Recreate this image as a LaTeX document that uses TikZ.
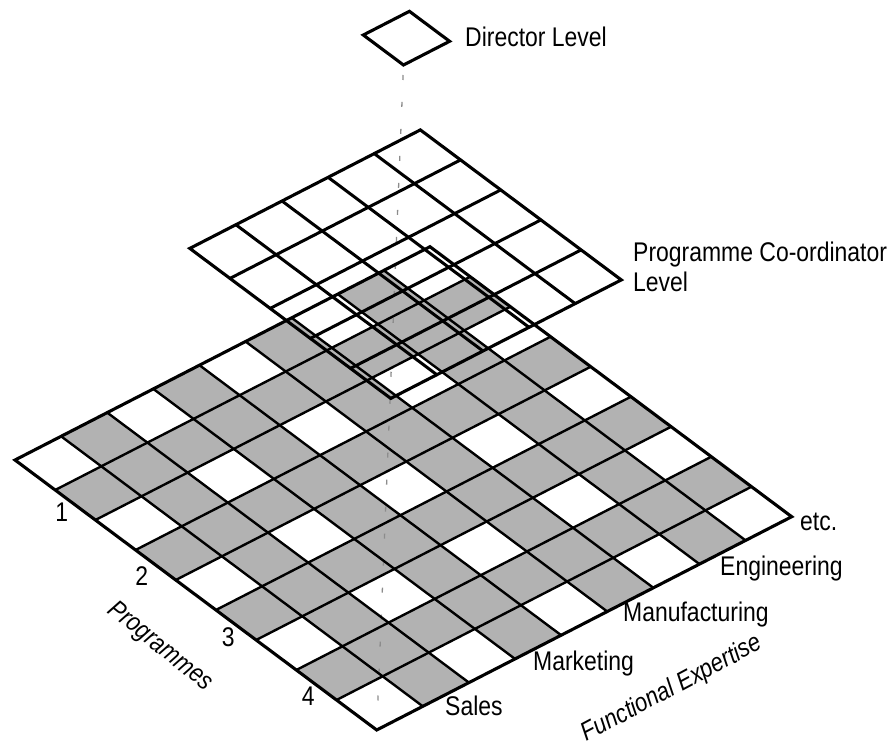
\documentclass[tikz,border=0pt]{standalone}
\usepackage{fontspec}
\setmainfont{Liberation Sans}[FakeStretch=0.85]
\begin{document}
\begin{tikzpicture}[x=1pt,y=-1pt,
  lbl/.style={font=\fontsize{27}{31}\selectfont, inner sep=0pt},
  axislbl/.style={font=\fontsize{26}{30}\selectfont\itshape, inner sep=0pt},
  cellfill/.style={fill=black!30},
  gridline/.style={line width=2.4pt, line cap=round},
  border/.style={line width=3.1pt, line join=miter},
  upline/.style={line width=3pt, line cap=round},
  dashline/.style={draw=black!45, line width=1.3pt, dash pattern=on 5pt off 22pt}]
\useasboundingbox (0,0) rectangle (893,748);

% ---- functional / programme matrix (9 x 9 cells) ----
\begin{scope}[shift={(15pt,-460pt)}, x={(40.19pt,-30pt)}, y={(46.11pt,23.7pt)}]
  \coordinate (baseL) at (0,0);
  \coordinate (baseB) at (9,0);
  \coordinate (baseR) at (9,9);
  \coordinate (baseT) at (0,9);
  \foreach \i in {0,...,8}{
    \foreach \j in {0,...,8}{
      \pgfmathtruncatemacro{\s}{mod(\i,2)+mod(\j,2)}
      \ifnum\s>0
        \fill[cellfill] (\i,\j) -- ++(1,0) -- ++(0,1) -- ++(-1,0) -- cycle;
      \fi
    }
  }
\end{scope}

% ---- director layer (single cell) ----
\begin{scope}[shift={(363.3pt,-35pt)}, x={(40.19pt,-30pt)}, y={(46.11pt,23.7pt)}]
  \coordinate (dirL) at (0,0);
  \coordinate (dirB) at (1,0);
  \coordinate (dirR) at (1,1);
  \coordinate (dirT) at (0,1);
\end{scope}

% vertical link through the levels
\draw[dashline, shorten <=10pt, shorten >=14pt] (dirB) -- (baseB);

\begin{scope}[shift={(15pt,-460pt)}, x={(40.19pt,-30pt)}, y={(46.11pt,23.7pt)}]
  \foreach \k in {1,...,8}{
    \draw[gridline] (\k,0) -- (\k,9);
    \draw[gridline] (0,\k) -- (9,\k);
  }
  \draw[border] (baseL) -- (baseB) -- (baseR) -- (baseT) -- cycle;
\end{scope}

% ---- programme co-ordinator layer (5 x 5 cells) ----
\begin{scope}[shift={(189.8pt,-248.4pt)}, x={(40.19pt,-30pt)}, y={(46.11pt,23.7pt)}]
  \coordinate (pcL) at (0,0);
  \coordinate (pcB) at (5,0);
  \coordinate (pcR) at (5,5);
  \coordinate (pcT) at (0,5);
  \foreach \k in {1,...,4}{
    \draw[upline] (\k,0) -- (\k,5);
    \draw[upline] (0,\k) -- (5,\k);
  }
  \draw[border] (pcL) -- (pcB) -- (pcR) -- (pcT) -- cycle;
\end{scope}

\draw[border] (dirL) -- (dirB) -- (dirR) -- (dirT) -- cycle;

% ---- labels ----
\node[lbl, anchor=base west] (dirlbl) at (465,46.7) {Director Level};
\node[lbl, anchor=base west] (pclbl1) at (633,261) {Programme Co-ordinator};
\node[lbl, anchor=base west] (pclbl2) at (633,291.7) {Level};

\node[lbl, anchor=base west] (sales) at (445,715) {Sales};
\node[lbl, anchor=base west] (marketing) at (533,670) {Marketing};
\node[lbl, anchor=base west] (manufacturing) at (623,621.7) {Manufacturing};
\node[lbl, anchor=base west] (engineering) at (720,575) {Engineering};
\node[lbl, anchor=base west] (etc) at (800,530) {etc.};

\node[lbl, anchor=base] (p1) at (61.7,521.7) {1};
\node[lbl, anchor=base] (p2) at (141.7,585) {2};
\node[lbl, anchor=base] (p3) at (228.3,646.7) {3};
\node[lbl, anchor=base] (p4) at (308.3,705) {4};

\node[axislbl, rotate=-39] (programmes) at (160,647) {Programmes};
\node[axislbl, rotate=28] (functional) at (672,689) {Functional Expertise};
\end{tikzpicture}
\end{document}
